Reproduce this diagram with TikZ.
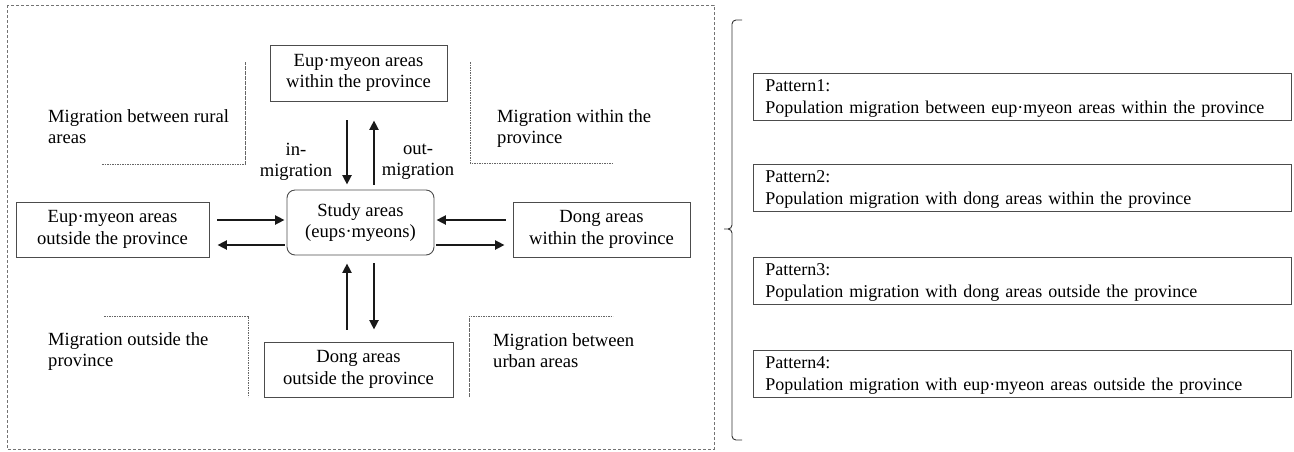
\documentclass[tikz,border=0pt]{standalone}
\usepackage{fontspec}
\setmainfont{Liberation Serif}
\usetikzlibrary{arrows.meta,calc}
\begin{document}
\begin{tikzpicture}[x=1pt,y=-1pt,
  every node/.style={font=\fontsize{18.6}{21.5}\selectfont, inner sep=0pt},
  areabox/.style={draw=black!70, line width=0.9pt, align=center},
  pbox/.style={draw=black!70, line width=0.9pt, align=left, anchor=north west,
    font=\fontsize{18}{21.5}\selectfont,
    text width=514pt, inner xsep=12pt, inner ysep=3.5pt, minimum width=538pt},
  lbl/.style={align=left, anchor=base west},
  guide/.style={draw=black!60, line width=0.7pt, dash pattern=on 1.6pt off 0.9pt},
  outer/.style={draw=black!55, line width=0.8pt, dash pattern=on 3pt off 2pt},
  arr/.style={draw=black!90, line width=2.3pt, -{Triangle[length=9.5pt,width=9pt]}}]
\useasboundingbox (0,0) rectangle (1294,451);
\draw[outer] (7,5) rectangle (714,449);

% area boxes
\node[areabox, minimum width=177pt, minimum height=56pt] (top) at (358.5,73) {Eup·myeon areas\\within the province};
\node[areabox, rounded corners=8pt, minimum width=147pt, minimum height=65pt] (study) at (360.5,222.5) {Study areas\\(eups·myeons)};
\node[areabox, minimum width=193pt, minimum height=55pt] (left) at (112.5,229.5) {Eup·myeon areas\\outside the province};
\node[areabox, minimum width=177pt, minimum height=55pt] (right) at (601.5,229.5) {Dong areas\\within the province};
\node[areabox, minimum width=189pt, minimum height=55pt] (bottom) at (358.5,369.5) {Dong areas\\outside the province};

% in/out labels
\node[align=center] (inlbl) at (296,162) {in-\\migration};
\node[align=center] (outlbl) at (418,162) {out-\\migration};

% arrows
\draw[arr] ($(top.south)+(-11.5,19)$) -- ($(study.north)+(-13.5,-5)$);
\draw[arr] ($(study.north)+(13.5,-5)$) -- ($(top.south)+(15.5,19)$);
\draw[arr] ($(left.east)+(8,-9.5)$) -- ($(study.west)+(-2,-2.5)$);
\draw[arr] ($(study.west)+(-2,22.5)$) -- ($(left.east)+(8,15.5)$);
\draw[arr] ($(right.west)+(-7,-9.5)$) -- ($(study.east)+(2,-2.5)$);
\draw[arr] ($(study.east)+(2,22.5)$) -- ($(right.west)+(-8,15.5)$);
\draw[arr] ($(bottom.north)+(-11.5,-12)$) -- ($(study.south)+(-13.5,8)$);
\draw[arr] ($(study.south)+(13.5,8)$) -- ($(bottom.north)+(15.5,-12)$);

% region labels and guides (anchor = baseline of last line)
\node[lbl] (rural) at (48,143.5) {Migration between rural\\areas};
\draw[guide] (102,164) -- (245.5,164) -- (245.5,62);
\node[lbl] (within) at (497,143.5) {Migration within the\\province};
\draw[guide] (470,62) -- (470,163) -- (613,163);
\node[lbl] (outside) at (48,366.5) {Migration outside the\\province};
\draw[guide] (104,316) -- (248,316) -- (248,397);
\node[lbl] (urban) at (493,367.5) {Migration between\\urban areas};
\draw[guide] (469,397) -- (469,316) -- (613,316);

% bracket
\draw[black!80, line width=0.9pt, rounded corners=4pt]
  (742,20) -- (732,20) -- (732,229) -- (724,229)
  (724,229) -- (732,229) -- (732,440) -- (742,440);

% pattern boxes
\node[pbox] (p1) at (753,73) {\rule{0pt}{15pt}Pattern1:\\Population migration between eup·myeon areas within the province};
\node[pbox] (p2) at (753,164) {\rule{0pt}{15pt}Pattern2:\\Population migration with dong areas within the province};
\node[pbox] (p3) at (753,257) {\rule{0pt}{15pt}Pattern3:\\Population migration with dong areas outside the province};
\node[pbox] (p4) at (753,350) {\rule{0pt}{15pt}Pattern4:\\Population migration with eup·myeon areas outside the province};
\end{tikzpicture}
\end{document}
